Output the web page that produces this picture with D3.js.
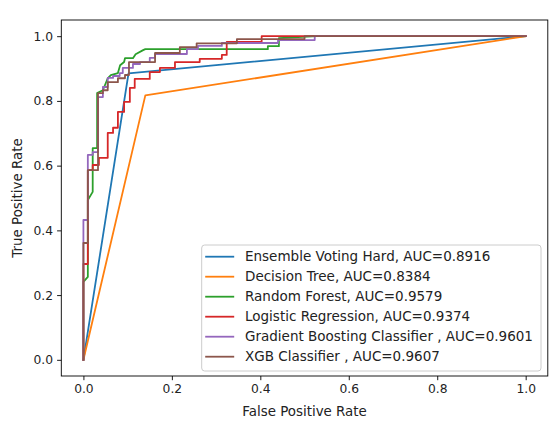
<!DOCTYPE html>
<html>
<head>
<meta charset="utf-8">
<script src="https://cdn.jsdelivr.net/npm/d3@7"></script>
<style>
  body { margin: 0; background: #fff; }
  text { font-family: "DejaVu Sans", sans-serif; }
</style>
</head>
<body>
<div id="container"></div>
<script>
/* CONSTANTS AND GLOBALS */
const width = 552,
  height = 422,
  margin = {top: 20, bottom: 46, left: 61.3, right: 4.2};

/* DATA */
const modelNames = [
  "Ensemble Voting Hard, AUC=0.8916",
  "Decision Tree, AUC=0.8384",
  "Random Forest, AUC=0.9579",
  "Logistic Regression, AUC=0.9374",
  "Gradient Boosting Classifier , AUC=0.9601",
  "XGB Classifier , AUC=0.9607"
];

const ensembleFpr = [0, 0.102, 1];
const ensembleTpr = [0, 0.885, 1];

const treeFpr = [0, 0.14, 1];
const treeTpr = [0, 0.817, 1];

const forestFpr = [0, 0, 0.010, 0.010, 0.021, 0.021, 0.031, 0.031, 0.044, 0.055, 0.062, 0.078, 0.083, 0.092, 0.094, 0.112, 0.118, 0.135, 0.140, 0.417, 0.417, 0.442, 0.442, 0.528, 1];
const forestTpr = [0, 0.241, 0.256, 0.494, 0.519, 0.654, 0.654, 0.824, 0.833, 0.870, 0.880, 0.886, 0.910, 0.920, 0.932, 0.932, 0.944, 0.957, 0.960, 0.960, 0.969, 0.969, 0.994, 1, 1];

const logregFpr = [0, 0, 0.010, 0.010, 0.021, 0.021, 0.035, 0.035, 0.055, 0.055, 0.067, 0.067, 0.078, 0.078, 0.092, 0.092, 0.105, 0.105, 0.116, 0.116, 0.150, 0.150, 0.173, 0.173, 0.207, 0.207, 0.263, 0.263, 0.313, 0.313, 0.324, 0.324, 0.403, 0.403, 1];
const logregTpr = [0, 0.296, 0.296, 0.586, 0.586, 0.602, 0.602, 0.624, 0.624, 0.701, 0.701, 0.717, 0.717, 0.766, 0.766, 0.797, 0.797, 0.840, 0.840, 0.868, 0.868, 0.889, 0.889, 0.902, 0.902, 0.920, 0.920, 0.930, 0.930, 0.942, 0.942, 0.982, 0.982, 1, 1];

const gboostFpr = [0, 0, 0.010, 0.010, 0.021, 0.021, 0.033, 0.033, 0.044, 0.044, 0.055, 0.055, 0.067, 0.067, 0.082, 0.082, 0.089, 0.089, 0.112, 0.112, 0.128, 0.128, 0.150, 0.150, 0.162, 0.162, 0.234, 0.234, 0.259, 0.259, 0.313, 0.313, 0.440, 0.440, 0.523, 0.523, 1];
const gboostTpr = [0, 0.432, 0.432, 0.633, 0.633, 0.642, 0.642, 0.812, 0.812, 0.843, 0.843, 0.871, 0.871, 0.877, 0.877, 0.886, 0.886, 0.902, 0.902, 0.914, 0.914, 0.920, 0.920, 0.933, 0.933, 0.945, 0.945, 0.960, 0.960, 0.970, 0.970, 0.979, 0.979, 0.988, 0.988, 1, 1];

const xgbFpr = [0, 0, 0.010, 0.010, 0.033, 0.033, 0.044, 0.044, 0.055, 0.055, 0.078, 0.078, 0.094, 0.094, 0.103, 0.103, 0.162, 0.162, 0.218, 0.218, 0.256, 0.256, 0.347, 0.347, 0.500, 0.500, 1];
const xgbTpr = [0, 0.361, 0.361, 0.586, 0.586, 0.824, 0.824, 0.833, 0.833, 0.858, 0.858, 0.870, 0.870, 0.880, 0.880, 0.920, 0.920, 0.948, 0.948, 0.966, 0.966, 0.978, 0.978, 0.991, 0.991, 1, 1];

const tickValues = [0, 0.2, 0.4, 0.6, 0.8, 1.0];
const colors = ["#1f77b4", "#ff7f0e", "#2ca02c", "#d62728", "#9467bd", "#8c564b"];

// one entry per curve, zipping fpr/tpr together
const curves = [
  [ensembleFpr, ensembleTpr],
  [treeFpr, treeTpr],
  [forestFpr, forestTpr],
  [logregFpr, logregTpr],
  [gboostFpr, gboostTpr],
  [xgbFpr, xgbTpr]
].map((c, i) => ({
  name: modelNames[i],
  points: c[0].map((f, j) => [f, c[1][j]])
}));

/* SCALES */
const xScale = d3.scaleLinear()
  .domain([-0.05, 1.05])
  .range([margin.left, width - margin.right]);

const yScale = d3.scaleLinear()
  .domain([-0.05, 1.05])
  .range([height - margin.bottom, margin.top]);

const color = d3.scaleOrdinal()
  .domain(modelNames)
  .range(colors);

/* HTML ELEMENTS */
const svg = d3.select("#container")
  .append("svg")
  .attr("width", width)
  .attr("height", height);

const line = d3.line()
  .x(d => xScale(d[0]))
  .y(d => yScale(d[1]));

// clip to the axes box
svg.append("clipPath").attr("id", "plotclip")
  .append("rect")
  .attr("x", margin.left)
  .attr("y", margin.top)
  .attr("width", width - margin.left - margin.right)
  .attr("height", height - margin.top - margin.bottom);

svg.append("g")
  .attr("clip-path", "url(#plotclip)")
  .selectAll("path")
  .data(curves)
  .join("path")
  .attr("d", d => line(d.points))
  .attr("fill", "none")
  .attr("stroke", d => color(d.name))
  .attr("stroke-width", 1.8)
  .attr("stroke-linejoin", "round")
  .attr("stroke-linecap", "square");

// Axes
const xAxis = d3.axisBottom(xScale)
  .tickValues(tickValues)
  .tickFormat(d3.format(".1f"))
  .tickSize(4.2)
  .tickPadding(4);
const gx = svg.append("g")
  .attr("transform", `translate(0, ${height - margin.bottom})`)
  .call(xAxis);

const yAxis = d3.axisLeft(yScale)
  .tickValues(tickValues)
  .tickFormat(d3.format(".1f"))
  .tickSize(4.2)
  .tickPadding(4);
const gy = svg.append("g")
  .attr("transform", `translate(${margin.left},0)`)
  .call(yAxis);

[gx, gy].forEach(g => {
  g.select(".domain").remove();
  g.selectAll("line").attr("stroke", "#000").attr("stroke-width", 0.9);
  g.selectAll("text")
    .style("font-size", "12.3px")
    .style("font-family", "DejaVu Sans")
    .attr("fill", "#222");
});

// frame (spines)
svg.append("rect")
  .attr("x", margin.left)
  .attr("y", margin.top)
  .attr("width", width - margin.left - margin.right)
  .attr("height", height - margin.top - margin.bottom)
  .attr("fill", "none")
  .attr("stroke", "#000")
  .attr("stroke-width", 0.9);

// Legend
const legend = svg.append("g").attr("transform", "translate(201.7, 245)");
legend.append("rect")
  .attr("width", 339.3)
  .attr("height", 126)
  .attr("rx", 3)
  .attr("fill", "#fff")
  .attr("fill-opacity", 0.8)
  .attr("stroke", "#ccc")
  .attr("stroke-width", 1);

const rows = legend.selectAll(".row")
  .data(modelNames)
  .join("g")
  .attr("class", "row")
  .attr("transform", (d, i) => `translate(0, ${11.7 + i * 20})`);

rows.append("line")
  .attr("x1", 3.5)
  .attr("x2", 32.5)
  .attr("stroke", d => color(d))
  .attr("stroke-width", 1.8);

rows.append("text")
  .attr("x", 43.3)
  .attr("dy", "0.35em")
  .text(d => d)
  .style("font-size", "13.5px")
  .attr("fill", "#222");

// Y Label
svg.append("text")
  .attr("x", -(margin.top + height - margin.bottom) / 2)
  .attr("y", 22)
  .attr("transform", "rotate(-90)")
  .attr("text-anchor", "middle")
  .text("True Positive Rate")
  .style("font-size", "13.4px")
  .attr("fill", "#222");

// X Label
svg.append("text")
  .attr("x", (margin.left + width - margin.right) / 2)
  .attr("y", 415.5)
  .attr("text-anchor", "middle")
  .text("False Positive Rate")
  .style("font-size", "13.4px")
  .attr("fill", "#222");
</script>
</body>
</html>
